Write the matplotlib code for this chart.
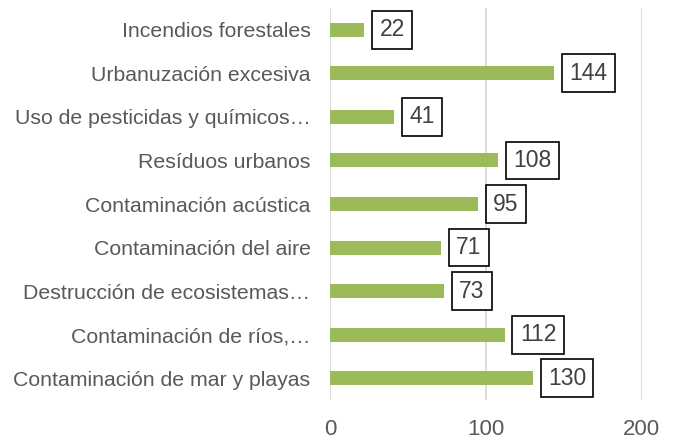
import matplotlib
matplotlib.use("Agg")
import matplotlib.pyplot as plt

plt.rcParams['font.family'] = ['Liberation Sans', 'DejaVu Sans']

# datos (de arriba hacia abajo)
categorias = [
    'Incendios forestales',
    'Urbanuzación excesiva',
    'Uso de pesticidas y químicos…',
    'Resíduos urbanos',
    'Contaminación acústica',
    'Contaminación del aire',
    'Destrucción de ecosistemas…',
    'Contaminación de ríos,…',
    'Contaminación de mar y playas',
]
valores = [22, 144, 41, 108, 95, 71, 73, 112, 130]
x_ticks = [0, 100, 200]

GREEN = '#9BBB59'
GRAY = '#595959'
GRID = '#D9D9D9'

fig = plt.figure(figsize=(6.77, 4.43), dpi=100)
ax = fig.add_axes([0.4875, 0.097, 0.4603, 0.885])

pos = list(range(len(categorias)))
ax.barh(pos, valores, height=0.32, color=GREEN, zorder=3)

# etiquetas con recuadro
for p, v in zip(pos, valores):
    ax.annotate(str(v), xy=(v, p), xytext=(11, 0), textcoords='offset points',
                ha='left', va='center', fontsize=16.5, color='#404040',
                bbox=dict(boxstyle='square,pad=0.32', fc='white', ec='black', lw=1.2),
                zorder=4)

ax.set_xlim(0, 200)
ax.set_ylim(len(categorias) - 0.5, -0.5)
ax.set_yticks(pos)
ax.set_yticklabels(categorias, fontsize=15.3, color=GRAY)
ax.set_xticks(x_ticks)
ax.set_xticklabels([str(t) for t in x_ticks], fontsize=16, color=GRAY)
ax.tick_params(axis='y', length=0, pad=14)
ax.tick_params(axis='x', length=0, pad=14)
ax.grid(axis='x', color=GRID, lw=1.3, zorder=0)
for s in ax.spines.values():
    s.set_visible(False)

fig.savefig('out.png', dpi=100)
